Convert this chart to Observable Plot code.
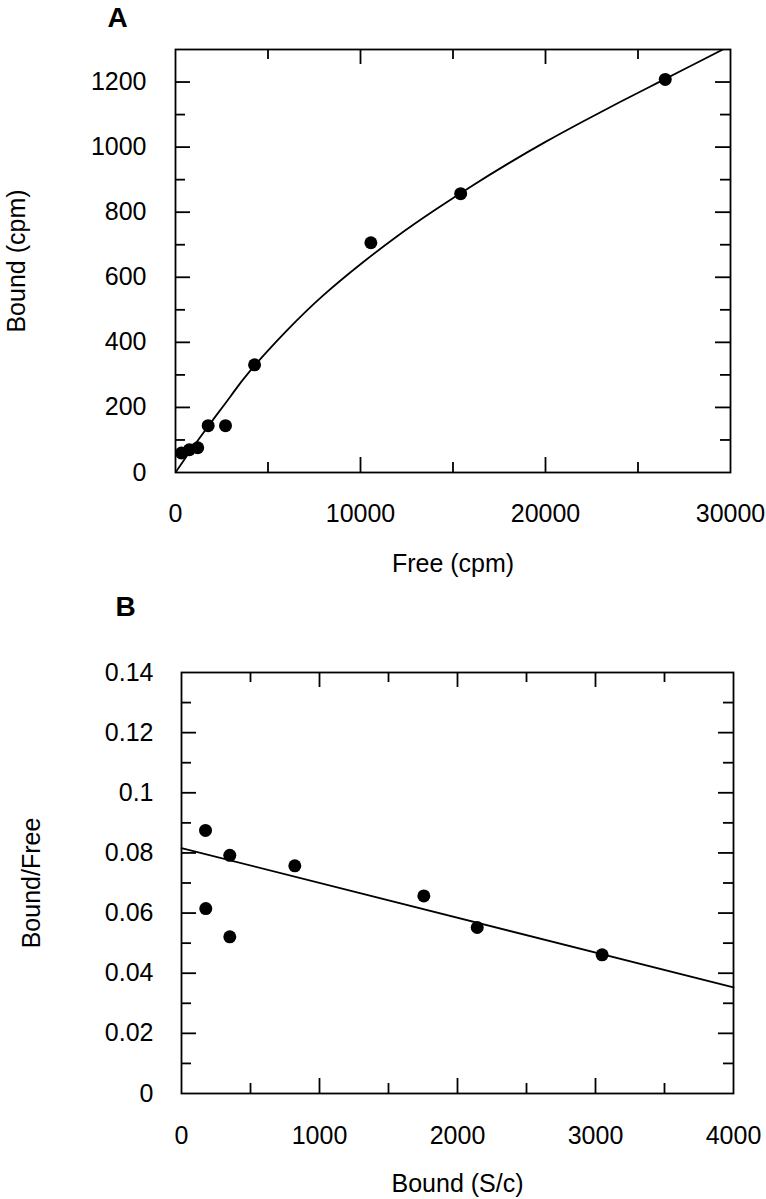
<!DOCTYPE html>
<html><head><meta charset="utf-8">
<script src="https://cdn.jsdelivr.net/npm/d3@7"></script>
<script src="https://cdn.jsdelivr.net/npm/@observablehq/plot@0.6"></script>
<style>body{margin:0;background:#fff} svg{display:block}</style>
</head><body><div id="chart"></div>
<script>
// Panel A: saturation binding
const freeA = [320, 750, 1200, 1767, 2703, 4274, 10560, 15415, 26473];
const boundA = [60, 70, 76, 144, 144, 331, 706, 857, 1208];
const curveFreeA = [0, 1000, 2000, 3000, 4000, 6000, 8000, 10000, 12000, 14000, 16000, 18000, 20000, 22000, 24000, 26000, 28000, 30000];
const curveBoundA = [0, 82, 160, 236, 310, 435, 545, 640, 727, 806, 880, 950, 1016, 1078, 1138, 1196, 1254, 1312];
const xLabelsA = [0, 10000, 20000, 30000];
const xMajorA = [10000, 20000];
const xMinorA = [5000, 15000, 25000];
const yLabelsA = [0, 200, 400, 600, 800, 1000, 1200];
const yMajorA = [200, 400, 600, 800, 1000, 1200];
const yMinorA = [100, 300, 500, 700, 900, 1100];

// Panel B: Scatchard plot
const boundB = [174, 176, 350, 350, 821, 1756, 2143, 3048];
const ratioB = [0.0875, 0.0615, 0.0792, 0.0521, 0.0757, 0.0657, 0.0552, 0.0461];
const fitBoundB = [0, 4000];
const fitRatioB = [0.0816, 0.0353];
const xLabelsB = [0, 1000, 2000, 3000, 4000];
const xMajorB = [1000, 2000, 3000];
const xMinorB = [500, 1500, 2500, 3500];
const yLabelsB = [0, 0.02, 0.04, 0.06, 0.08, 0.1, 0.12, 0.14];
const yMajorB = [0.02, 0.04, 0.06, 0.08, 0.1, 0.12];
const yMinorB = [0.01, 0.03, 0.05, 0.07, 0.09, 0.11, 0.13];

const FONT = "'Liberation Sans', Arial, Helvetica, sans-serif";
const MAJ = 15, MIN = 10, SW = 1.8;

function inwardTicks(W, H, xMaj, xMin, yMaj, yMin) {
  const o = {stroke: "black", strokeWidth: SW};
  return [
    Plot.tickX(xMaj, {x: d => d, insetTop: H - MAJ, ...o}),
    Plot.tickX(xMin, {x: d => d, insetTop: H - MIN, ...o}),
    Plot.tickX(xMaj, {x: d => d, insetBottom: H - MAJ, ...o}),
    Plot.tickX(xMin, {x: d => d, insetBottom: H - MIN, ...o}),
    Plot.tickY(yMaj, {y: d => d, insetRight: W - MAJ, ...o}),
    Plot.tickY(yMin, {y: d => d, insetRight: W - MIN, ...o}),
    Plot.tickY(yMaj, {y: d => d, insetLeft: W - MAJ, ...o}),
    Plot.tickY(yMin, {y: d => d, insetLeft: W - MIN, ...o})
  ];
}

// Panel A
const A = {width: 766, height: 590, mL: 175, mR: 36, mT: 49, mB: 118};
const WA = A.width - A.mL - A.mR, HA = A.height - A.mT - A.mB;
const dataA = freeA.map((f, i) => ({f, b: boundA[i]}));
const curveA = curveFreeA.map((f, i) => ({f, b: curveBoundA[i]}));
const plotA = Plot.plot({
  width: A.width, height: A.height,
  marginLeft: A.mL, marginRight: A.mR, marginTop: A.mT, marginBottom: A.mB,
  style: {fontFamily: FONT, fontSize: "25px", color: "black", background: "white"},
  x: {domain: [0, 30000]},
  y: {domain: [0, 1300]},
  marks: [
    Plot.frame({stroke: "black", strokeWidth: SW}),
    ...inwardTicks(WA, HA, xMajorA, xMinorA, yMajorA, yMinorA),
    Plot.axisX({ticks: xLabelsA, tickSize: 0, tickPadding: 32, tickFormat: d => String(d), label: null, fontSize: 25}),
    Plot.axisY({ticks: yLabelsA, tickSize: 0, tickPadding: 29, tickFormat: d => String(d), label: null, fontSize: 25}),
    Plot.line(curveA, {x: "f", y: "b", stroke: "black", strokeWidth: 1.8, curve: "natural", clip: true}),
    Plot.dot(dataA, {x: "f", y: "b", r: 6.5, fill: "black"}),
    Plot.text(["Free (cpm)"], {frameAnchor: "bottom", dy: 91, text: d => d, fontSize: 25, lineAnchor: "middle", textAnchor: "middle"}),
    Plot.text(["Bound (cpm)"], {frameAnchor: "left", dx: -159, rotate: -90, text: d => d, fontSize: 25, lineAnchor: "middle", textAnchor: "middle"}),
    Plot.text(["A"], {frameAnchor: "top-left", dx: -58, dy: -31, text: d => d, fontSize: 28, fontWeight: "bold", lineAnchor: "middle", textAnchor: "middle"})
  ]
});

// Panel B
const B = {width: 766, height: 609, mL: 181, mR: 33, mT: 82, mB: 106};
const WB = B.width - B.mL - B.mR, HB = B.height - B.mT - B.mB;
const dataB = boundB.map((b, i) => ({b, r: ratioB[i]}));
const fitB = fitBoundB.map((b, i) => ({b, r: fitRatioB[i]}));
const plotB = Plot.plot({
  width: B.width, height: B.height,
  marginLeft: B.mL, marginRight: B.mR, marginTop: B.mT, marginBottom: B.mB,
  style: {fontFamily: FONT, fontSize: "25px", color: "black", background: "white"},
  x: {domain: [0, 4000]},
  y: {domain: [0, 0.14]},
  marks: [
    Plot.frame({stroke: "black", strokeWidth: SW}),
    ...inwardTicks(WB, HB, xMajorB, xMinorB, yMajorB, yMinorB),
    Plot.axisX({ticks: xLabelsB, tickSize: 0, tickPadding: 33, tickFormat: d => String(d), label: null, fontSize: 25}),
    Plot.axisY({ticks: yLabelsB, tickSize: 0, tickPadding: 28, tickFormat: d => String(+d.toFixed(2)), label: null, fontSize: 25}),
    Plot.line(fitB, {x: "b", y: "r", stroke: "black", strokeWidth: 1.8}),
    Plot.dot(dataB, {x: "b", y: "r", r: 6.5, fill: "black"}),
    Plot.text(["Bound (S/c)"], {frameAnchor: "bottom", dy: 90, text: d => d, fontSize: 25, lineAnchor: "middle", textAnchor: "middle"}),
    Plot.text(["Bound/Free"], {frameAnchor: "left", dx: -150, rotate: -90, text: d => d, fontSize: 25, lineAnchor: "middle", textAnchor: "middle"}),
    Plot.text(["B"], {frameAnchor: "top-left", dx: -56, dy: -65, text: d => d, fontSize: 28, fontWeight: "bold", lineAnchor: "middle", textAnchor: "middle"})
  ]
});

const root = document.getElementById("chart");
root.append(plotA, plotB);
</script>
</body></html>
